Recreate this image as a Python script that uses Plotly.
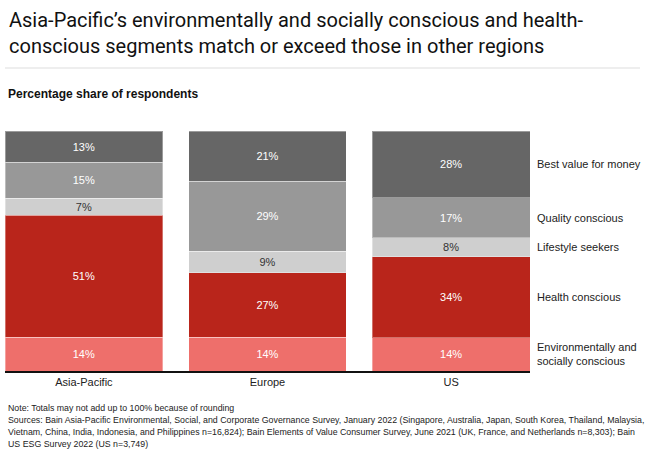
import plotly.graph_objects as go

regions = ["Asia-Pacific", "Europe", "US"]
segments = ["Environmentally and<br>socially conscious", "Health conscious",
            "Lifestyle seekers", "Quality conscious", "Best value for money"]
env_social = [14, 14, 14]
health = [51, 27, 34]
lifestyle = [7, 9, 8]
quality = [15, 29, 17]
best_value = [13, 21, 28]
series = [env_social, health, lifestyle, quality, best_value]
colors = ["#ee6f6b", "#b9251b", "#cfcfcf", "#989898", "#666666"]
text_colors = ["white", "white", "#333333", "white", "white"]

note_lines = [
    "Note: Totals may not add up to 100% because of rounding",
    "Sources: Bain Asia-Pacific Environmental, Social, and Corporate Governance Survey, January 2022 (Singapore, Australia, Japan, South Korea, Thailand, Malaysia,",
    "Vietnam, China, India, Indonesia, and Philippines n=16,824); Bain Elements of Value Consumer Survey, June 2021 (UK, France, and Netherlands n=8,303); Bain",
    "US ESG Survey 2022 (US n=3,749)",
]

fig = go.Figure()
for name, vals, col, tc in zip(segments, series, colors, text_colors):
    fig.add_trace(go.Bar(
        x=regions, y=vals, name=name,
        marker=dict(color=col, line=dict(color="rgba(255,255,255,0.35)", width=1)),
        text=[f"{v}%" for v in vals], textposition="inside",
        insidetextanchor="middle", textangle=0,
        textfont=dict(family="Liberation Sans, Arial", size=11, color=tc),
    ))

# right-side labels at US segment midpoints
us_vals = [s[2] for s in series]
us_total = sum(us_vals)
cum = 0
for name, v in zip(segments, us_vals):
    mid = (cum + v / 2) / us_total * 100
    cum += v
    fig.add_annotation(x=1, xref="paper", y=mid, yref="y", text=name,
                       showarrow=False, xanchor="left", xshift=5, align="left",
                       font=dict(family="Liberation Sans, Arial", size=11, color="#222222"))

PLOT_H = 240
def py(pix):  # pixel y (from top) -> paper coordinate
    return (454 - 83 - pix) / PLOT_H

fig.update_layout(
    width=650, height=454,
    barmode="stack", barnorm="percent", bargap=0.141,
    showlegend=False,
    plot_bgcolor="white", paper_bgcolor="white",
    margin=dict(l=5, r=120, t=131, b=83),
    font=dict(family="Liberation Sans, Arial", size=11, color="#222222"),
    uniformtext=dict(minsize=11, mode="show"),
    xaxis=dict(range=[-0.4295, 2.4295], showline=True, linecolor="#111111", linewidth=1.5,
               ticks="", tickfont=dict(size=11, color="#222222"), fixedrange=True),
    yaxis=dict(range=[0, 100], visible=False, fixedrange=True),
    shapes=[dict(type="line", xref="paper", yref="paper", x0=0, x1=(640 - 5) / 525,
                 y0=py(68), y1=py(68), line=dict(color="#dddddd", width=1))],
)

fig.add_annotation(x=0, xref="paper", y=py(6), yref="paper",
                   text="Asia-Pacific’s environmentally and socially conscious and health-<br>"
                        "conscious segments match or exceed those in other regions",
                   showarrow=False, xanchor="left", yanchor="top", align="left", xshift=2,
                   font=dict(family="Roboto, Liberation Sans", size=20, color="#111111"))

fig.add_annotation(x=0, xref="paper", y=py(94), yref="paper",
                   text="<b>Percentage share of respondents</b>", showarrow=False,
                   xanchor="left", yanchor="middle", xshift=1,
                   font=dict(family="Liberation Sans, Arial", size=12, color="#111111"))

for i, line in enumerate(note_lines):
    fig.add_annotation(x=0, xref="paper", y=py(408 + 12 * i), yref="paper",
                       text=line, showarrow=False, xanchor="left", yanchor="middle",
                       align="left", xshift=1,
                       font=dict(family="Liberation Sans, Arial", size=8.8, color="#222222"))

fig.write_html("out.html", config={"displayModeBar": False},
               post_script="document.body.style.margin='0';")
